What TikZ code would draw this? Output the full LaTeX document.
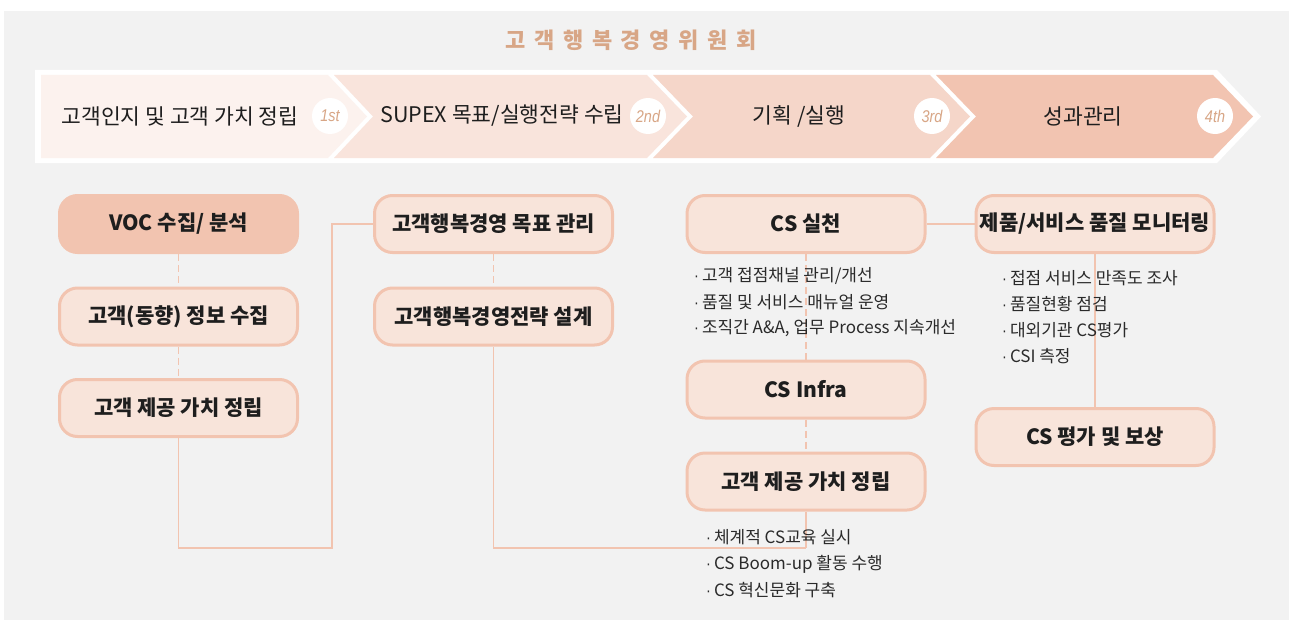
\documentclass[tikz,border=0pt]{standalone}
\usepackage{fontspec}
\setmainfont{Noto Sans CJK KR}
\newfontfamily\labfont{Liberation Sans}[FakeStretch=0.85]
\definecolor{bggray}{HTML}{F2F2F2}
\definecolor{chA}{HTML}{FCF2EE}
\definecolor{chB}{HTML}{F9E4DC}
\definecolor{chC}{HTML}{F5D6C9}
\definecolor{chD}{HTML}{F2C4B1}
\definecolor{boxfill}{HTML}{F8E4DA}
\definecolor{boxline}{HTML}{F2C4B0}
\definecolor{tan}{HTML}{D8A686}
\definecolor{txt}{HTML}{1E1E1E}
\definecolor{btxt}{HTML}{2A2A2A}
\newcommand\bdot{{\labfont ·}\hspace{3pt}}
\tikzset{
  stagebox/.style={draw=boxline, fill=boxfill, line width=3pt, rounded corners=18pt,
    minimum width=238pt, minimum height=57pt, inner sep=0pt, text=txt,
    font=\fontsize{21}{24}\selectfont\bfseries},
  hotbox/.style={stagebox, fill=boxline},
  link/.style={draw=boxline, line width=1.6pt},
  dlink/.style={link, dash pattern=on 7pt off 4pt},
  bullet/.style={anchor=west, inner sep=0pt, text=btxt, font=\fontsize{17}{20}\selectfont},
  chevtext/.style={inner sep=0pt, text=txt, font=\fontsize{21.5}{24}\selectfont},
  numdisc/.style={circle, fill=white, minimum size=36pt, inner sep=0pt, text=tan,
    font=\labfont\itshape\fontsize{17}{19}\selectfont},
}
\begin{document}
\begin{tikzpicture}[x=1pt,y=-1pt]
\useasboundingbox (0,0) rectangle (1289,623);
\fill[bggray] (4,11) rectangle (1289,620);
% title
\node[text=tan, font=\fontsize{22}{26}\selectfont\bfseries\addfontfeatures{LetterSpace=39}] (title) at (631,40) {고객행복경영위원회};
% chevron band
\fill[white] (35,70) -- (1217,70) -- (1261,116.5) -- (1217,163) -- (35,163) -- cycle;
\fill[chA] (41,75) -- (328,75) -- (367,116.5) -- (328,158) -- (41,158) -- cycle;
\fill[chB] (334,75) -- (647,75) -- (687,116.5) -- (647,158) -- (334,158) -- (373,116.5) -- cycle;
\fill[chC] (653,75) -- (930,75) -- (970,116.5) -- (930,158) -- (653,158) -- (693,116.5) -- cycle;
\fill[chD] (936,75) -- (1213,75) -- (1253,116.5) -- (1213,158) -- (936,158) -- (976,116.5) -- cycle;
\node[chevtext] (s1) at (180,116) {고객인지 및 고객 가치 정립};
\node[chevtext] (s2) at (502,116) {SUPEX 목표/실행전략 수립};
\node[chevtext] (s3) at (799,116) {기획 /실행};
\node[chevtext] (s4) at (1083,116) {성과관리};
\node[numdisc] (n1) at (330,116) {1st};
\node[numdisc] (n2) at (648,116) {2nd};
\node[numdisc] (n3) at (932,116) {3rd};
\node[numdisc] (n4) at (1215,116) {4th};
% boxes
\coordinate (c1) at (332,548);
\coordinate (c3) at (806,548);
\node[hotbox] (voc) at (178.5,224) {VOC 수집/ 분석};
\node[stagebox] (info) at (178.5,316.5) {고객(동향) 정보 수집};
\node[stagebox] (val1) at (178.5,408) {고객 제공 가치 정립};
\node[stagebox] (goal) at (493.5,224) {고객행복경영 목표 관리};
\node[stagebox] (strat) at (493.5,316.5) {고객행복경영전략 설계};
\node[stagebox] (cs) at (806,224) {CS 실천};
\node[stagebox] (infra) at (806,389.5) {CS Infra};
\node[stagebox] (val2) at (806,481.5) {고객 제공 가치 정립};
\node[stagebox] (mon) at (1095,224) {제품/서비스 품질 모니터링};
\node[stagebox] (eval) at (1095,437) {CS 평가 및 보상};
% connectors
\draw[dlink] (voc.south) -- (info.north);
\draw[dlink] (info.south) -- (val1.north);
\draw[link] (val1.south) |- (c1) |- (goal.west);
\draw[dlink] (goal.south) -- (strat.north);
\draw[link] (strat.south) |- (c3);
\draw[link] (val2.south) -- (c3);
\draw[link] (cs.east) -- (mon.west);
\draw[dlink] (cs.south) -- (infra.north);
\draw[dlink] (infra.south) -- (val2.north);
\draw[link] (mon.south) -- (eval.north);
% bullets
\node[bullet] (b1) at (694,276) {\bdot 고객 접점채널 관리/개선};
\node[bullet] (b2) at (694,302) {\bdot 품질 및 서비스 매뉴얼 운영};
\node[bullet] (b3) at (694,328) {\bdot 조직간 A\&A, 업무 Process 지속개선};
\node[bullet] (m1) at (1002,278) {\bdot 접점 서비스 만족도 조사};
\node[bullet] (m2) at (1002,304) {\bdot 품질현황 점검};
\node[bullet] (m3) at (1002,330) {\bdot 대외기관 CS평가};
\node[bullet] (m4) at (1002,356) {\bdot CSI 측정};
\node[bullet] (v1) at (706,537) {\bdot 체계적 CS교육 실시};
\node[bullet] (v2) at (706,564) {\bdot CS Boom-up 활동 수행};
\node[bullet] (v3) at (706,590) {\bdot CS 혁신문화 구축};
\end{tikzpicture}
\end{document}
